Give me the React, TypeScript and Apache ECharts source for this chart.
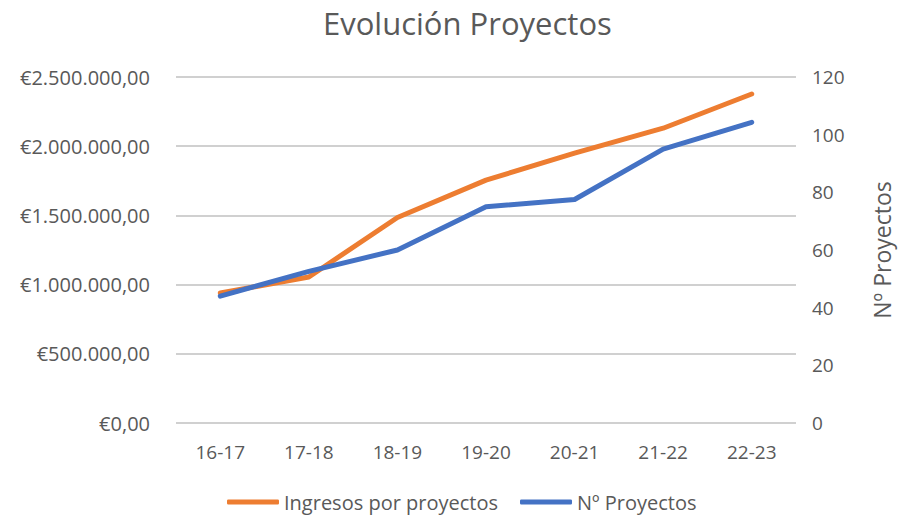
import React, { useEffect, useRef } from "react";
import * as echarts from "echarts";

const categories = ["16-17", "17-18", "18-19", "19-20", "20-21", "21-22", "22-23"];
const ingresos = [939000, 1055000, 1485000, 1755000, 1950000, 2130000, 2377000];
const proyectos = [44, 52.6, 60, 75, 77.5, 95, 104.3];

const FONT = "'Open Sans', 'Noto Sans', sans-serif";
const GREY = "#595959";

function euro(v: number): string {
  const s = Math.round(v).toString().replace(/\B(?=(\d{3})+(?!\d))/g, ".");
  return "€" + s + ",00";
}

export default function App() {
  const ref = useRef<HTMLDivElement>(null);
  useEffect(() => {
    if (!ref.current) return;
    const chart = echarts.init(ref.current, undefined, { renderer: "svg" });
    chart.setOption({
      animation: false,
      backgroundColor: "#ffffff",
      textStyle: { fontFamily: FONT },
      title: {
        text: "Evolución Proyectos",
        left: 318,
        top: 2,
        textStyle: { fontFamily: FONT, fontSize: 31, fontWeight: "normal", color: GREY },
      },
      legend: {
        bottom: 0,
        left: 222,
        icon: "roundRect",
        itemWidth: 52,
        itemHeight: 5,
        itemGap: 22,
        textStyle: { fontFamily: FONT, fontSize: 20, color: GREY },
        data: ["Ingresos por proyectos", "Nº Proyectos"],
      },
      grid: { left: 176, right: 95, top: 77, bottom: 94 },
      xAxis: {
        type: "category",
        data: categories,
        boundaryGap: true,
        axisLine: { show: false },
        axisTick: { show: false },
        axisLabel: { fontFamily: FONT, fontSize: 19, color: GREY, margin: 19 },
      },
      yAxis: [
        {
          type: "value",
          min: 0,
          max: 2500000,
          interval: 500000,
          axisLine: { show: false },
          axisTick: { show: false },
          axisLabel: { fontFamily: FONT, fontSize: 20, color: GREY, margin: 26, formatter: (v: number) => euro(v) },
          splitLine: { lineStyle: { color: "#d0d0d0", width: 2 } },
        },
        {
          type: "value",
          min: 0,
          max: 120,
          interval: 20,
          position: "right",
          name: "Nº Proyectos",
          nameLocation: "middle",
          nameRotate: 90,
          nameGap: 74,
          nameTextStyle: { fontFamily: FONT, fontSize: 23, color: GREY },
          axisLine: { show: false },
          axisTick: { show: false },
          axisLabel: { fontFamily: FONT, fontSize: 19, color: GREY, margin: 16 },
          splitLine: { show: false },
        },
      ],
      series: [
        {
          name: "Ingresos por proyectos",
          type: "line",
          yAxisIndex: 0,
          data: ingresos,
          showSymbol: false,
          symbol: "none",
          color: "#ED7D31",
          lineStyle: { color: "#ED7D31", width: 5, cap: "round", join: "round" },
        },
        {
          name: "Nº Proyectos",
          type: "line",
          yAxisIndex: 1,
          data: proyectos,
          showSymbol: false,
          symbol: "none",
          color: "#4472C4",
          lineStyle: { color: "#4472C4", width: 5, cap: "round", join: "round" },
        },
      ],
    });
    return () => chart.dispose();
  }, []);
  return (
    <div
      ref={ref}
      style={{ position: "fixed", left: 0, top: 0, width: 901, height: 517, background: "#fff" }}
    />
  );
}
